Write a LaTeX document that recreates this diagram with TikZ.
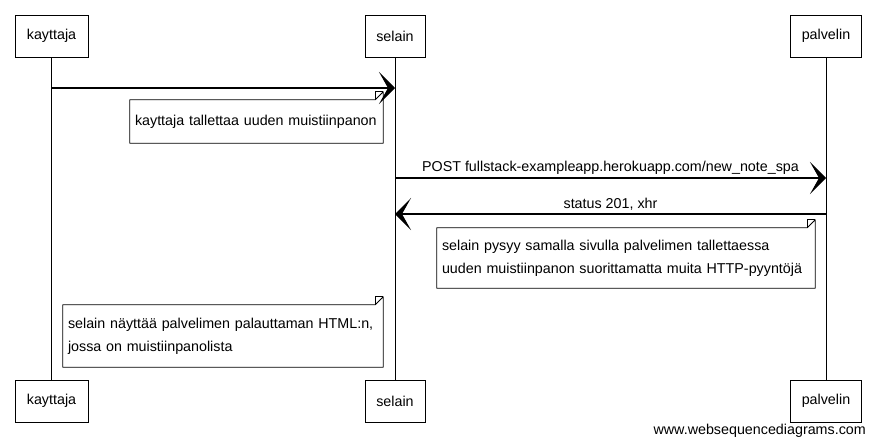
\documentclass[tikz,border=0pt]{standalone}
\usepackage{fontspec}
\setmainfont{Liberation Sans}
\usetikzlibrary{arrows.meta}
\begin{document}
\begin{tikzpicture}[x=1pt,y=-1pt,
  font=\fontsize{14.3}{23}\selectfont,
  actor/.style={draw, line width=0.8pt, minimum height=42pt, inner sep=0pt},
  lifeline/.style={line width=0.8pt},
  msg/.style={line width=1.2pt, -{Stealth[length=16pt,width=32pt,inset=9pt]}},
  notebox/.style={draw=none, minimum height=#1, inner sep=5pt, align=left, anchor=center},
  noteline/.style={line width=0.8pt, line join=round}
]
\useasboundingbox (0,0) rectangle (876,445);
\fill[white] (0,0) rectangle (876,445);

% actors top
\node[actor, minimum width=73pt] (k1) at (51.5,36) {kayttaja};
\node[actor, minimum width=60pt] (s1) at (395,36) {selain};
\node[actor, minimum width=71pt] (p1) at (826,36) {palvelin};
% actors bottom
\node[actor, minimum width=73pt] (k2) at (51.5,401) {kayttaja};
\node[actor, minimum width=60pt] (s2) at (395,401) {selain};
\node[actor, minimum width=71pt] (p2) at (826,401) {palvelin};

% lifelines
\draw[lifeline] (k1) -- (k2);
\draw[lifeline] (s1) -- (s2);
\draw[lifeline] (p1) -- (p2);

% messages
\draw[msg] (k1 |- 0,88) -- (s1 |- 0,88);
\draw[msg] (s1 |- 0,178) -- node[above, inner sep=3pt] (l1) {POST fullstack-exampleapp.herokuapp.com/new\_note\_spa} (p1 |- 0,178);
\draw[msg] (p1 |- 0,214) -- node[above, inner sep=3pt] (l2) {status 201, xhr} (s1 |- 0,214);

% notes
\node[notebox=43pt, text width=243pt] (n1) at (256.5,121.5) {kayttaja tallettaa uuden muistiinpanon};
\draw[noteline] (n1.north west) -- ([xshift=-8pt]n1.north east) -- ([yshift=8pt]n1.north east) -- (n1.south east) -- (n1.south west) -- cycle;
\draw[noteline] ([xshift=-8pt]n1.north east) -- ([xshift=-8pt,yshift=8pt]n1.north east) -- ([yshift=8pt]n1.north east);

\node[notebox=60pt, text width=368pt] (n2) at (626,258) {selain pysyy samalla sivulla palvelimen tallettaessa\\uuden muistiinpanon suorittamatta muita HTTP-pyyntöjä};
\draw[noteline] (n2.north west) -- ([xshift=-8pt]n2.north east) -- ([yshift=8pt]n2.north east) -- (n2.south east) -- (n2.south west) -- cycle;
\draw[noteline] ([xshift=-8pt]n2.north east) -- ([xshift=-8pt,yshift=8pt]n2.north east) -- ([yshift=8pt]n2.north east);

\node[notebox=62pt, text width=310pt] (n3) at (223,336) {selain näyttää palvelimen palauttaman HTML:n,\\jossa on muistiinpanolista};
\draw[noteline] (n3.north west) -- ([xshift=-8pt]n3.north east) -- ([yshift=8pt]n3.north east) -- (n3.south east) -- (n3.south west) -- cycle;
\draw[noteline] ([xshift=-8pt]n3.north east) -- ([xshift=-8pt,yshift=8pt]n3.north east) -- ([yshift=8pt]n3.north east);

% footer
\node[anchor=east, inner sep=0pt] (foot) at (866,431) {www.websequencediagrams.com};
\end{tikzpicture}
\end{document}
